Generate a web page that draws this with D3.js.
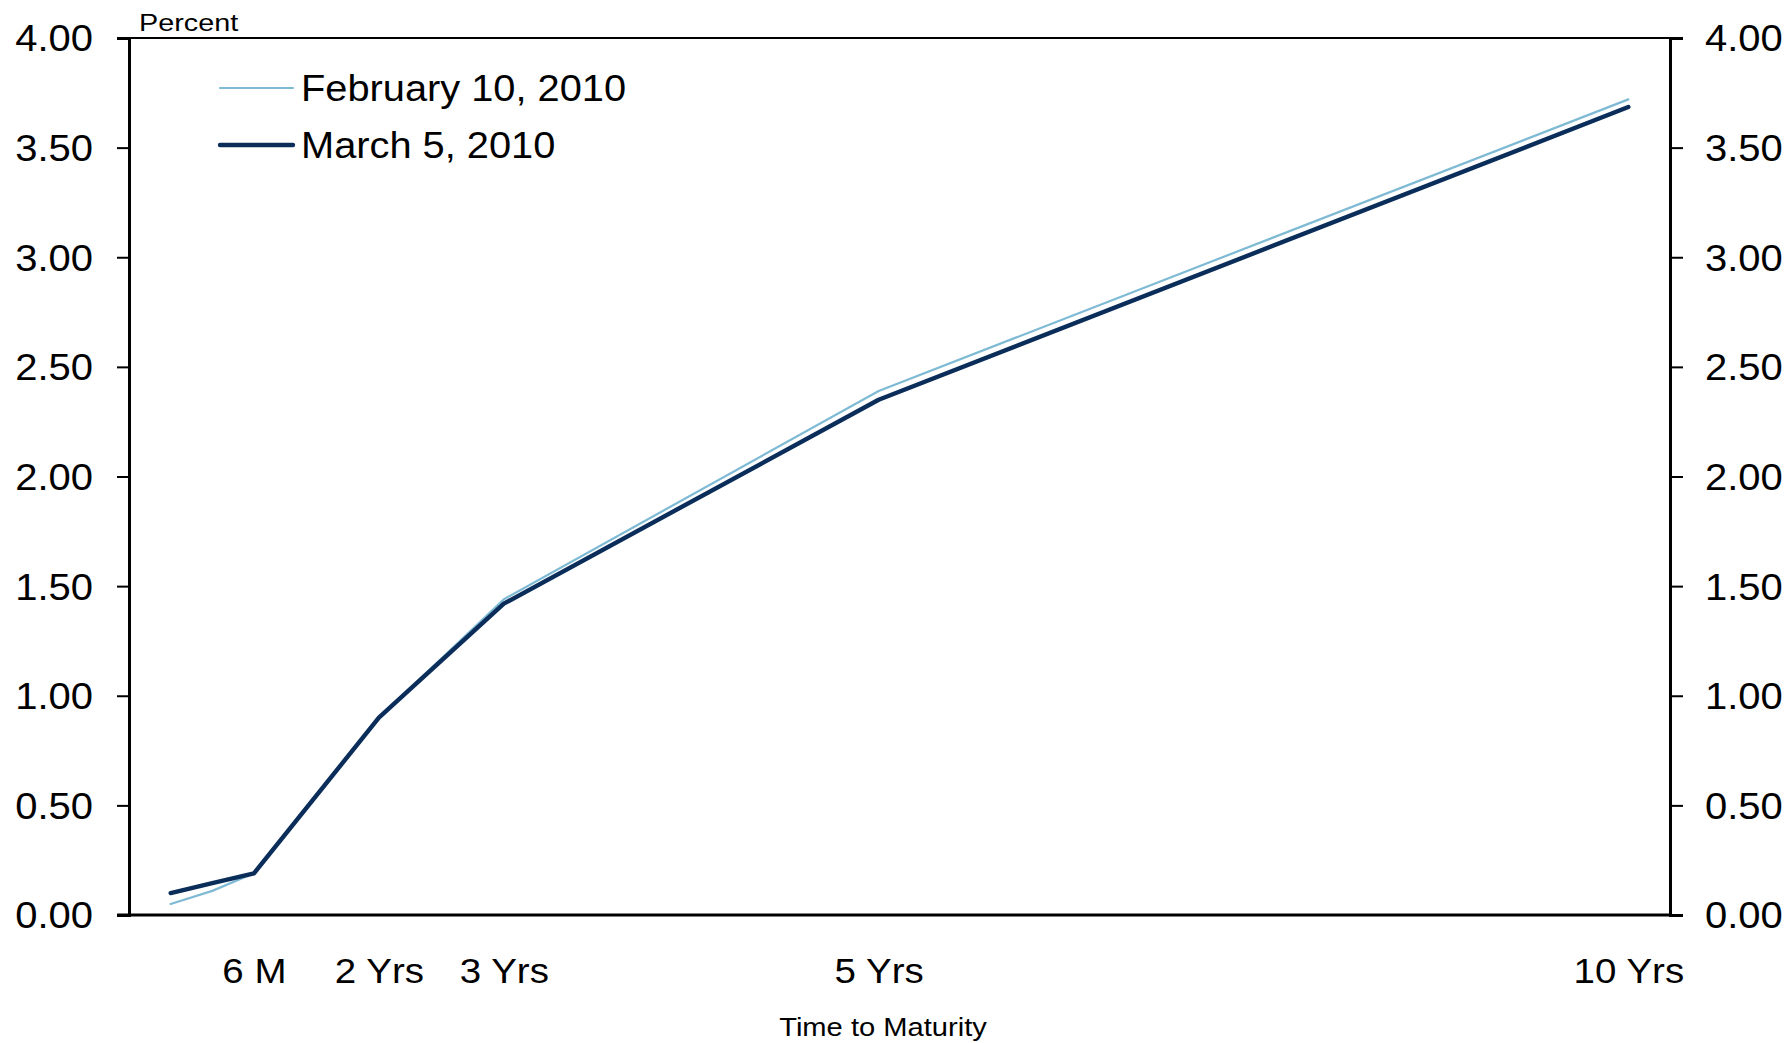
<!DOCTYPE html>
<html>
<head>
<meta charset="utf-8">
<script src="https://cdn.jsdelivr.net/npm/d3@7"></script>
<style>
  html, body { margin: 0; padding: 0; background: #fff; }
  svg { display: block; font-family: "Liberation Sans", Arial, sans-serif; }
</style>
</head>
<body>
<svg id="chart" width="1787" height="1043"></svg>
<script>
// ---- Data ----
const maturityIndex = [0, 1, 2, 5, 8, 17, 35];
const feb10Values = [0.05, 0.11, 0.19, 0.90, 1.44, 2.39, 3.72];
const mar5Values = [0.10, 0.145, 0.19, 0.90, 1.42, 2.35, 3.685];
const seriesNames = ["February 10, 2010", "March 5, 2010"];
const xTickIndex = [2, 5, 8, 17, 35];
const xTickLabels = ["6 M", "2 Yrs", "3 Yrs", "5 Yrs", "10 Yrs"];
const yTickValues = [0, 0.5, 1, 1.5, 2, 2.5, 3, 3.5, 4];
const yLabel = "Percent";
const xLabel = "Time to Maturity";

// ---- Layout ----
const W = 1787, H = 1043;
const m = { left: 129, right: 1670, top: 38, bottom: 915 };
const svg = d3.select("#chart");

const x = d3.scaleLinear().domain([-1, 36]).range([m.left, m.right]);
const y = d3.scaleLinear().domain([0, 4]).range([m.bottom, m.top]);

const colors = ["#7fbad5", "#0a2d5a"];
const widths = [2.2, 4.4];

// widen glyphs horizontally like the reference rendering
function stretch(sel, k) {
  sel.each(function () {
    const len = this.getComputedTextLength();
    d3.select(this).attr("textLength", len * k).attr("lengthAdjust", "spacingAndGlyphs");
  });
}

// frame top line
svg.append("line")
  .attr("x1", m.left - 12).attr("x2", m.right + 13)
  .attr("y1", m.top).attr("y2", m.top)
  .attr("stroke", "#000").attr("stroke-width", 2);

// left axis
const yAxisL = svg.append("g").attr("transform", `translate(${m.left},0)`)
  .call(d3.axisLeft(y).tickValues(yTickValues).tickFormat(d3.format(".2f"))
    .tickSize(12).tickPadding(24));
// right axis
const yAxisR = svg.append("g").attr("transform", `translate(${m.right},0)`)
  .call(d3.axisRight(y).tickValues(yTickValues).tickFormat(d3.format(".2f"))
    .tickSize(13).tickPadding(22));
[yAxisL, yAxisR].forEach(g => {
  g.select(".domain").attr("stroke", "#000").attr("stroke-width", 3);
  g.selectAll(".tick line").attr("stroke", "#000").attr("stroke-width", 2);
  g.selectAll(".tick text").attr("fill", "#000")
    .style("font-size", "36px").attr("dy", "0.36em");
  stretch(g.selectAll(".tick text"), 1.11);
});

// bottom axis
const xAxis = svg.append("g").attr("transform", `translate(0,${m.bottom})`)
  .call(d3.axisBottom(x).tickValues(xTickIndex)
    .tickFormat((d, i) => xTickLabels[i]).tickSize(0));
xAxis.select(".domain").remove();
xAxis.selectAll(".tick text").attr("fill", "#000")
  .style("font-size", "35px").attr("dy", null).attr("y", 68);
stretch(xAxis.selectAll(".tick text"), 1.1);
svg.append("line")
  .attr("x1", m.left - 12).attr("x2", m.right)
  .attr("y1", m.bottom).attr("y2", m.bottom)
  .attr("stroke", "#000").attr("stroke-width", 3);

// series
const series = [feb10Values, mar5Values];
const line = d3.line().x((d, i) => x(maturityIndex[i])).y(d => y(d));
series.forEach((vals, s) => {
  svg.append("path").datum(vals)
    .attr("d", line)
    .attr("fill", "none")
    .attr("stroke", colors[s])
    .attr("stroke-width", widths[s])
    .attr("stroke-linejoin", "round")
    .attr("stroke-linecap", "round");
});

// legend
const legendY = [88, 145];
seriesNames.forEach((name, s) => {
  svg.append("line")
    .attr("x1", 220).attr("x2", 293)
    .attr("y1", legendY[s]).attr("y2", legendY[s])
    .attr("stroke", colors[s]).attr("stroke-width", widths[s])
    .attr("stroke-linecap", "round");
  const t = svg.append("text")
    .attr("x", 301).attr("y", legendY[s]).attr("dy", "0.36em")
    .style("font-size", "36px").attr("fill", "#000")
    .text(name);
  stretch(t, 1.105);
});

// axis titles
const yl = svg.append("text").attr("x", 139).attr("y", 31)
  .style("font-size", "24px").attr("fill", "#000").text(yLabel);
stretch(yl, 1.2);
const xl = svg.append("text").attr("x", 883).attr("y", 1036)
  .attr("text-anchor", "middle")
  .style("font-size", "26px").attr("fill", "#000").text(xLabel);
stretch(xl, 1.12);
</script>
</body>
</html>
